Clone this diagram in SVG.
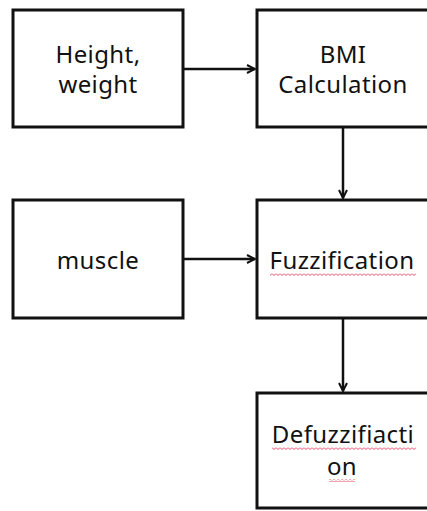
<svg xmlns="http://www.w3.org/2000/svg" width="427" height="511" viewBox="0 0 427 511">
<style>
.box{fill:#fff;stroke:#111;stroke-width:3}
.lbl{font-family:"Noto Sans","Open Sans","DejaVu Sans",sans-serif;font-size:24px;letter-spacing:0.4px;fill:#111;text-anchor:middle}
.con{stroke:#111;stroke-width:2.5;fill:none}
</style>
<defs>
<marker id="arr" viewBox="0 0 10 10" refX="9" refY="5" markerWidth="10" markerHeight="10" markerUnits="userSpaceOnUse" orient="auto">
<path d="M1,1 L9,5 L1,9" fill="none" stroke="#111" stroke-width="2"/>
</marker>
<pattern id="wave" width="4" height="3" patternUnits="userSpaceOnUse">
<path d="M0,0.5 L2,2.5 L4,0.5" fill="none" stroke="#e03050" stroke-width="0.9"/>
</pattern>
</defs>
<rect width="427" height="511" fill="#fff"/>
<g id="hw"><rect class="box" x="13" y="10" width="170" height="117"/><text class="lbl" x="98" y="63">Height,</text><text class="lbl" x="98" y="93">weight</text></g>
<g id="bmi"><rect class="box" x="257" y="10" width="180" height="117"/><text class="lbl" x="343" y="63">BMI</text><text class="lbl" x="343" y="93">Calculation</text></g>
<g id="muscle"><rect class="box" x="13" y="200" width="170" height="118"/><text class="lbl" x="98" y="269">muscle</text></g>
<g id="fuzz"><rect class="box" x="257" y="200" width="180" height="118"/><text class="lbl" x="342" y="269">Fuzzification</text></g>
<g id="defuzz"><rect class="box" x="257" y="393" width="180" height="115"/><text class="lbl" x="343" y="443">Defuzzifiacti</text><text class="lbl" x="342" y="475">on</text></g>
<g id="connectors">
<line class="con" x1="183" y1="69" x2="255" y2="69" marker-end="url(#arr)"/>
<line class="con" x1="343" y1="127" x2="343" y2="198" marker-end="url(#arr)"/>
<line class="con" x1="183" y1="259" x2="255" y2="259" marker-end="url(#arr)"/>
<line class="con" x1="343" y1="318" x2="343" y2="391" marker-end="url(#arr)"/>
</g>
<g id="spell">
<rect x="270" y="273" width="146" height="3" fill="url(#wave)"/>
<rect x="272" y="447" width="144" height="3" fill="url(#wave)"/>
<rect x="329" y="479" width="26" height="3" fill="url(#wave)"/>
</g>
</svg>
